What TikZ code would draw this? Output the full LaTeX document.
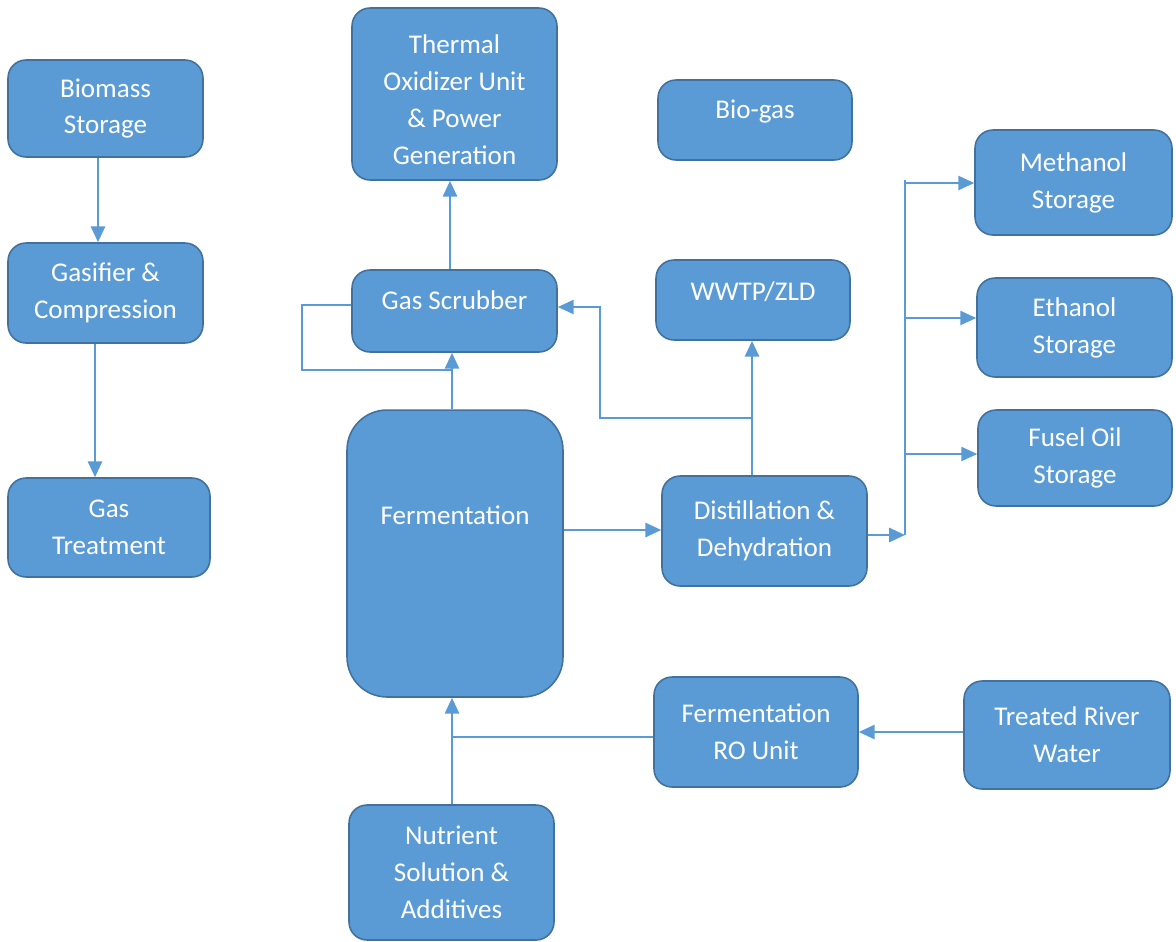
\documentclass[tikz,border=0pt]{standalone}
\usepackage{fontspec}
\setmainfont{Carlito}
\usetikzlibrary{arrows.meta}
\definecolor{boxfill}{HTML}{5B9BD5}
\definecolor{boxline}{HTML}{41719C}
\definecolor{arr}{HTML}{5B9BD5}
\tikzset{
  box/.style={draw=boxline, line width=0.9pt, fill=boxfill, rounded corners=0.36cm,
    text=white, align=center, font=\fontsize{15.4}{21}\selectfont, inner sep=0pt},
  txt/.style={text=white, align=center, font=\fontsize{15.4}{21}\selectfont, inner sep=0pt},
  flow/.style={draw=arr, line width=1.4pt, -{Triangle[length=9pt,width=8pt]}},
  thin/.style={draw=arr, line width=0.85pt},
  thinflow/.style={draw=arr, line width=1.1pt, -{Triangle[length=9pt,width=8pt]}}
}
\begin{document}
\begin{tikzpicture}[x=0.02cm,y=-0.02cm]
\useasboundingbox (0,0) rectangle (1176,941);
% nodes
\node[box, minimum width=3.9cm, minimum height=1.94cm] (bio) at (105.5,108.5) {Biomass\\Storage};
\node[box, minimum width=3.9cm, minimum height=2.0cm] (gas) at (105.5,293) {Gasifier \&\\Compression};
\node[box, minimum width=4.04cm, minimum height=1.98cm] (treat) at (109,527.5) {Gas\\Treatment};
\node[box, minimum width=4.1cm, minimum height=3.44cm] (thermal) at (454.5,94) {\rule{0pt}{17pt}Thermal\\Oxidizer Unit\\\& Power\\Generation};
\node[box, minimum width=3.88cm, minimum height=1.6cm, text depth=12pt] (biogas) at (755,120) {Bio-gas};
\node[box, minimum width=4.1cm, minimum height=1.64cm, text depth=12pt] (scrub) at (454.5,311) {Gas Scrubber};
\node[box, minimum width=3.88cm, minimum height=1.6cm, text depth=10pt] (wwtp) at (753,300) {WWTP/ZLD};
\node[box, minimum width=3.94cm, minimum height=2.1cm] (meth) at (1073.5,182.5) {Methanol\\Storage};
\node[box, minimum width=3.9cm, minimum height=1.98cm] (eth) at (1074.5,327.5) {Ethanol\\Storage};
\node[box, minimum width=3.88cm, minimum height=1.92cm] (fusel) at (1075,458) {Fusel Oil\\Storage};
\node[box, rounded corners=0.8cm, minimum width=4.32cm, minimum height=5.74cm] (ferm) at (455,553.5) {};
\node[txt] (fermtxt) at (455,515) {Fermentation};
\node[box, minimum width=4.1cm, minimum height=2.2cm] (dist) at (764.5,531) {Distillation \&\\Dehydration};
\node[box, minimum width=4.08cm, minimum height=2.2cm] (ro) at (756,732) {Fermentation\\RO Unit};
\node[box, minimum width=4.12cm, minimum height=2.16cm] (river) at (1067,735) {Treated River\\Water};
\node[box, minimum width=4.1cm, minimum height=2.7cm] (nutr) at (451.5,872.5) {Nutrient\\Solution \&\\Additives};
% helper coordinates
\coordinate (loopA) at (302,305);
\coordinate (loopB) at (302,370);
\coordinate (loopC) at (452,370);
\coordinate (wA) at (752,418);
\coordinate (wB) at (600,418);
\coordinate (wC) at (600,307);
\coordinate (busTop) at (905,180);
\coordinate (busBot) at (905,535);
\coordinate (roJoin) at (452,737);
% connectors
\draw[flow] (bio.south -| 98,0) -- (gas.north -| 98,0);
\draw[flow] (gas.south -| 95,0) -- (treat.north -| 95,0);
\draw[flow] (scrub.north -| 450,0) -- (thermal.south -| 450,0);
\draw[flow] (ferm.north -| 452,0) -- (scrub.south -| 452,0);
\draw[thin] (scrub.west |- loopA) -- (loopA) -- (loopB) -- (loopC);
\draw[flow] (ferm.east |- 0,530) -- (dist.west |- 0,530);
\draw[flow] (dist.north -| 752,0) -- (wwtp.south -| 752,0);
\draw[thinflow] (wA) -- (wB) -- (wC) -- (scrub.east |- wC);
\draw[flow] (dist.east |- 0,535) -- (busBot);
\draw[thin, line width=1.1pt] (busTop) -- (busBot);
\draw[thinflow] (905,183) -- (meth.west |- 0,183);
\draw[thinflow] (905,318) -- (eth.west |- 0,318);
\draw[thinflow] (905,454) -- (fusel.west |- 0,454);
\draw[flow] (nutr.north -| 452,0) -- (ferm.south -| 452,0);
\draw[thin] (ro.west |- roJoin) -- (roJoin);
\draw[flow] (river.west |- 0,732) -- (ro.east |- 0,732);
\end{tikzpicture}
\end{document}
